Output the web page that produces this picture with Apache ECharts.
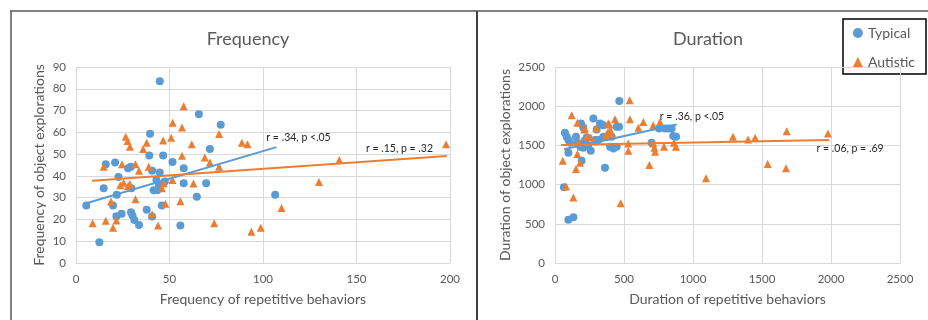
<!DOCTYPE html>
<html><head><meta charset="utf-8">
<script src="https://cdn.jsdelivr.net/npm/echarts@6/dist/echarts.min.js"></script>
<style>html,body{margin:0;padding:0;background:#fff}#c{width:928px;height:320px}</style>
</head><body><div id="c"></div>
<script>
// ---- Data ----
const freqTypical = [[5.5,26.4],[12.5,9.5],[14.8,34.3],[15.9,45.3],[20.9,46.2],[19.8,26.4],[21.8,31.3],[21.6,21.5],[22.7,39.5],[24.4,22.6],[27.8,43.5],[29.3,44.2],[29.4,23.3],[29.6,34.3],[30.2,21.8],[31.2,19.8],[33.7,17.4],[37.8,24.4],[39.2,49.4],[39.6,59.3],[40.7,42.4],[40.7,21.4],[41.5,33.4],[43,38.1],[43.4,33.4],[44.8,83.4],[44.8,41.5],[44.3,36],[45.9,26.4],[46.6,49.4],[47.5,37.4],[51.6,46.4],[55.8,17.2],[57.6,43.5],[57.6,36.6],[64.6,30.4],[65.7,68.3],[69.6,36.6],[71.6,52.3],[77.4,63.5],[106.5,31.3]];
const freqAutistic = [[8.9,18.3],[14.8,44.2],[15.9,19.4],[18.7,28.2],[19.8,16.2],[21.6,19.5],[23.7,35.7],[24.6,45.3],[25.5,36.9],[26.6,58],[27.6,56],[28.8,53.4],[28.8,36.3],[27.8,35.4],[31.8,29.3],[31.8,45.3],[33.7,42.4],[35.9,52.3],[37.8,55.2],[38.9,44.2],[40.7,22.4],[43.9,17.2],[45.9,34.3],[46.6,56.3],[47.8,27.2],[46.9,36.6],[50.9,57.5],[51.6,38.1],[51.7,64.4],[55.8,28.4],[56.7,49.3],[56.7,62.2],[57.6,72],[61.9,54.5],[62.8,36.5],[68.9,48.4],[71.6,46.2],[73.9,18.3],[76.5,59.2],[76.5,44.2],[88.7,55.2],[91.7,54.5],[93.8,14.3],[98.8,16.2],[109.9,25.3],[129.9,37.2],[140.8,47.3],[197.9,54.5]];
const durTypical = [[65,966],[97,551],[133,585],[72,1661],[85,1610],[97,1568],[109,1534],[97,1407],[152,1610],[188,1780],[205,1729],[165,1530],[185,1480],[205,1470],[215,1560],[193,1305],[240,1500],[230,1600],[259,1432],[278,1843],[302,1703],[326,1780],[350,1758],[290,1568],[314,1568],[350,1610],[374,1610],[362,1216],[399,1483],[423,1462],[447,1483],[447,1737],[464,1737],[411,1610],[466,2067],[700,1534],[754,1716],[797,1716],[821,1716],[845,1716],[857,1619],[877,1610]];
const durAutistic = [[56,1305],[80,975],[133,835],[121,1886],[162,1788],[152,1199],[162,1390],[181,1280],[212,1703],[217,1716],[230,1610],[170,1530],[476,763],[541,2076],[435,1835],[543,1835],[640,1800],[604,1725],[712,1758],[761,1800],[386,1780],[394,1767],[370,1620],[380,1660],[400,1700],[410,1640],[300,1720],[260,1600],[531,1525],[531,1432],[684,1250],[712,1525],[720,1470],[725,1420],[790,1483],[862,1534],[877,1483],[1094,1080],[1290,1610],[1399,1576],[1450,1597],[1541,1263],[1679,1682],[1674,1208],[1978,1653]];
const trendFreqTypical = [[4.6,27.2],[107.2,53.2]];
const trendFreqAutistic = [[8.6,37.8],[198.2,49.1]];
const trendDurTypical = [[65,1450],[882,1767]];
const trendDurAutistic = [[43,1504],[1988,1568]];
const labelFreqTypical = 'r = .34, p <.05';
const labelFreqAutistic = 'r = .15, p = .32';
const labelDurTypical = 'r = .36, p <.05';
const labelDurAutistic = 'r = .06, p = .69';
const freqXTicks = {min:0,max:200,interval:50};
const freqYTicks = {min:0,max:90,interval:10};
const durXTicks = {min:0,max:2500,interval:500};
const durYTicks = {min:0,max:2500,interval:500};

const BLUE = '#5B9BD5', ORANGE = '#ED7D31';
const FONT = 'Lato';
const gridLine = {show:true, lineStyle:{color:'#d9d9d9', width:1}};
const plain = v => String(v);
function xAx(idx, t, name){
  return {gridIndex:idx, type:'value', min:t.min, max:t.max, interval:t.interval,
    name:name, nameLocation:'middle', nameGap:29,
    nameTextStyle:{fontFamily:FONT, fontSize:14, color:'#595959'},
    axisLine:{show:true, lineStyle:{color:'#d9d9d9'}}, axisTick:{show:false},
    axisLabel:{fontFamily:FONT, fontSize:11.5, color:'#595959', margin:10, formatter:plain},
    splitLine:gridLine};
}
function yAx(idx, t, name, gap){
  return {gridIndex:idx, type:'value', min:t.min, max:t.max, interval:t.interval,
    name:name, nameLocation:'middle', nameGap:gap,
    nameTextStyle:{fontFamily:FONT, fontSize:14, color:'#595959'},
    axisLine:{show:false}, axisTick:{show:false},
    axisLabel:{fontFamily:FONT, fontSize:11.5, color:'#595959', margin:10, formatter:plain},
    splitLine:gridLine};
}
function scat(name, data, idx, sym, color, size){
  return {name:name, type:'scatter', xAxisIndex:idx, yAxisIndex:idx, data:data,
    symbol:sym, symbolSize:size, itemStyle:{color:color, opacity:1}, z:3};
}
function trend(data, idx, color, label, pos){
  return {type:'line', xAxisIndex:idx, yAxisIndex:idx, data:data, symbol:'none',
    lineStyle:{color:color, width:2}, z:4, silent:true,
    markPoint:{symbol:'rect', symbolSize:0, silent:true,
      data:[{coord:pos, label:{show:true, formatter:label, fontFamily:FONT, fontSize:10.5, color:'#262626', position:'inside'}}]}};
}
const chart = echarts.init(document.getElementById('c'), null, {renderer:'canvas'});
chart.setOption({
  animation:false,
  backgroundColor:'#fff',
  title:[
    {text:'Frequency', left:243, top:25, textAlign:'center', textStyle:{fontFamily:FONT, fontSize:18, fontWeight:'normal', color:'#595959'}},
    {text:'Duration', left:703, top:25, textAlign:'center', textStyle:{fontFamily:FONT, fontSize:18, fontWeight:'normal', color:'#595959'}}
  ],
  legend:{show:true, right:8, top:21, orient:'vertical', itemGap:15, itemWidth:10, itemHeight:10,
    data:[{name:'Typical', icon:'circle'},{name:'Autistic', icon:'triangle'}],
    textStyle:{fontFamily:FONT, fontSize:14, color:'#595959'}},
  grid:[
    {left:76, right:478, top:67, bottom:57},
    {left:555, right:28, top:67, bottom:57}
  ],
  xAxis:[xAx(0,freqXTicks,'Frequency of repetitive behaviors'), xAx(1,durXTicks,'Duration of repetitive behaviors')],
  yAxis:[yAx(0,freqYTicks,'Frequency of object explorations',30), yAx(1,durYTicks,'Duration of object explorations',43)],
  series:[
    scat('Typical', freqTypical, 0, 'circle', BLUE, 8),
    scat('Autistic', freqAutistic, 0, 'triangle', ORANGE, 8),
    trend(trendFreqTypical, 0, BLUE, labelFreqTypical, [119,57.4]),
    trend(trendFreqAutistic, 0, ORANGE, labelFreqAutistic, [173,52.3]),
    scat('Typical', durTypical, 1, 'circle', BLUE, 8),
    scat('Autistic', durAutistic, 1, 'triangle', ORANGE, 8),
    trend(trendDurTypical, 1, BLUE, labelDurTypical, [993,1873]),
    trend(trendDurAutistic, 1, ORANGE, labelDurAutistic, [2138,1453])
  ],
  graphic:[
    {type:'line', shape:{x1:10, y1:11, x2:928, y2:11}, style:{stroke:'#595959', lineWidth:1.5}},
    {type:'line', shape:{x1:11, y1:11, x2:11, y2:320}, style:{stroke:'#595959', lineWidth:1.5}},
    {type:'line', shape:{x1:477, y1:11, x2:477, y2:320}, style:{stroke:'#404040', lineWidth:2}},
    {type:'rect', shape:{x:843, y:19, width:83, height:55}, style:{fill:'none', stroke:'#000', lineWidth:1.5}}
  ]
});
</script></body></html>
